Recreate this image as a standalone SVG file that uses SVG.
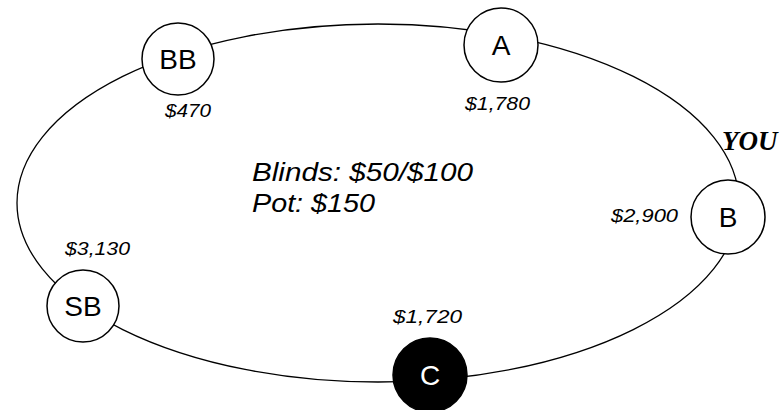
<svg xmlns="http://www.w3.org/2000/svg" width="782" height="410" viewBox="0 0 782 410">
<style>
.node circle{fill:#fff;stroke:#000;stroke-width:1.5}
.node text{font-family:"Liberation Sans",Arial,sans-serif;font-size:28px;text-anchor:middle;fill:#000}
.dark circle{fill:#000}
.dark text{fill:#fff}
.money{font-family:"Liberation Sans",Arial,sans-serif;font-size:18px;font-style:italic;fill:#000}
.info{font-family:"Liberation Sans",Arial,sans-serif;font-size:25px;font-style:italic;fill:#000}
.you{font-family:"Liberation Serif","Times New Roman",serif;font-size:27px;font-style:italic;font-weight:bold;fill:#000}
</style>
<rect width="782" height="410" fill="#fff"/>
<g id="connectors">
<ellipse cx="378" cy="203" rx="361" ry="179" fill="none" stroke="#000" stroke-width="1.3"/>
</g>
<g id="node-BB" class="node"><circle cx="178" cy="59" r="36"/><text x="178" y="69">BB</text></g>
<g id="node-A" class="node"><circle cx="501" cy="45" r="37"/><text x="501" y="55">A</text></g>
<g id="node-B" class="node"><circle cx="728" cy="217" r="37"/><text x="728" y="227">B</text></g>
<g id="node-SB" class="node"><circle cx="83" cy="306" r="36"/><text x="83" y="316">SB</text></g>
<g id="node-C" class="node dark"><circle cx="430" cy="375" r="37"/><text x="430" y="385">C</text></g>
<g id="labels">
<text class="money" x="165" y="117" textLength="46" lengthAdjust="spacingAndGlyphs">$470</text>
<text class="money" x="465" y="110" textLength="65" lengthAdjust="spacingAndGlyphs">$1,780</text>
<text class="money" x="611" y="222" textLength="67" lengthAdjust="spacingAndGlyphs">$2,900</text>
<text class="money" x="65" y="255" textLength="65" lengthAdjust="spacingAndGlyphs">$3,130</text>
<text class="money" x="393" y="323" textLength="69" lengthAdjust="spacingAndGlyphs">$1,720</text>
<text class="you" x="722" y="150">YOU</text>
<text class="info" x="252" y="181" textLength="221" lengthAdjust="spacingAndGlyphs">Blinds: $50/$100</text>
<text class="info" x="252" y="212" textLength="123" lengthAdjust="spacingAndGlyphs">Pot: $150</text>
</g>
</svg>
